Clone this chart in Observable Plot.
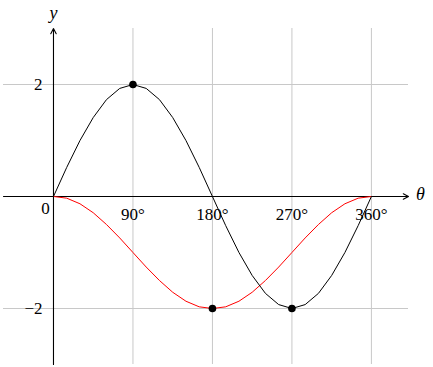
<!DOCTYPE html>
<html><head><meta charset="utf-8">
<script src="https://cdn.jsdelivr.net/npm/d3@7"></script>
<script src="https://cdn.jsdelivr.net/npm/@observablehq/plot@0.6"></script>
<style>body{margin:0;background:#fff}</style>
</head><body><div id="chart"></div>
<script>
const theta = [0,15,30,45,60,75,90,105,120,135,150,165,180,195,210,225,240,255,270,285,300,315,330,345,360];
const blackY = [0,0.52,1.0,1.41,1.73,1.93,2,1.93,1.73,1.41,1.0,0.52,0,-0.52,-1.0,-1.41,-1.73,-1.93,-2,-1.93,-1.73,-1.41,-1.0,-0.52,0];
const redY = [0,-0.03,-0.13,-0.29,-0.5,-0.74,-1.0,-1.26,-1.5,-1.71,-1.87,-1.97,-2,-1.97,-1.87,-1.71,-1.5,-1.26,-1.0,-0.74,-0.5,-0.29,-0.13,-0.03,0];
const markX = [90,180,270];
const markY = [2,-2,-2];
const xTicks = [90,180,270,360];
const xTickLabels = ["90°","180°","270°","360°"];
const yTicks = [2,-2];
const yTickLabels = ["2","−2"];
const xmin = -56.6, xmax = 402, ymin = -3, ymax = 3;

const black = theta.map((t,i)=>({t, v: blackY[i]}));
const red = theta.map((t,i)=>({t, v: redY[i]}));
const pts = markX.map((t,i)=>({t, v: markY[i]}));
const font = "Liberation Serif";

const chart = Plot.plot({
  width: 433, height: 367,
  marginLeft: 3, marginRight: 25, marginTop: 28, marginBottom: 3,
  x: {domain: [xmin, xmax], axis: null},
  y: {domain: [ymin, ymax], axis: null},
  style: {background: "#fff", fontFamily: font},
  marks: [
    Plot.ruleX(xTicks, {stroke: "#c8c8c8", strokeWidth: 1, strokeOpacity: 1}),
    Plot.ruleY(yTicks, {stroke: "#c8c8c8", strokeWidth: 1, strokeOpacity: 1}),
    Plot.arrow([{x1: xmin, x2: xmax, y: 0}], {x1: "x1", x2: "x2", y1: "y", y2: "y", stroke: "black", strokeWidth: 1.1, headLength: 8, headAngle: 55}),
    Plot.arrow([{y1: ymin, y2: ymax, x: 0}], {x1: "x", x2: "x", y1: "y1", y2: "y2", stroke: "black", strokeWidth: 1.1, headLength: 8, headAngle: 55}),
    Plot.line(red, {x: "t", y: "v", stroke: "#ff0000", strokeWidth: 1}),
    Plot.line(black, {x: "t", y: "v", stroke: "black", strokeWidth: 1}),
    Plot.dot(pts, {x: "t", y: "v", r: 3.8, fill: "black", stroke: "none"}),
    Plot.text(xTicks, {x: d=>d, y: 0, text: (d,i)=>xTickLabels[i], dy: 18, fontSize: 17, fontFamily: font, fill: "black"}),
    Plot.text(yTicks, {x: 0, y: d=>d, text: (d,i)=>yTickLabels[i], textAnchor: "end", dx: -11, fontSize: 17, fontFamily: font, fill: "black"}),
    Plot.text([0], {x: 0, y: 0, text: ["0"], dx: -8, dy: 12, fontSize: 17, fontFamily: font, fill: "black"}),
    Plot.text(["θ"], {x: xmax, y: 0, text: d=>d, dx: 12, dy: -2, fontSize: 18, fontFamily: font, fontStyle: "italic", fill: "black"}),
    Plot.text(["y"], {x: 0, y: ymax, text: d=>d, dy: -15, fontSize: 18, fontFamily: font, fontStyle: "italic", fill: "black"})
  ]
});
document.getElementById("chart").appendChild(chart);
</script>
</body></html>
